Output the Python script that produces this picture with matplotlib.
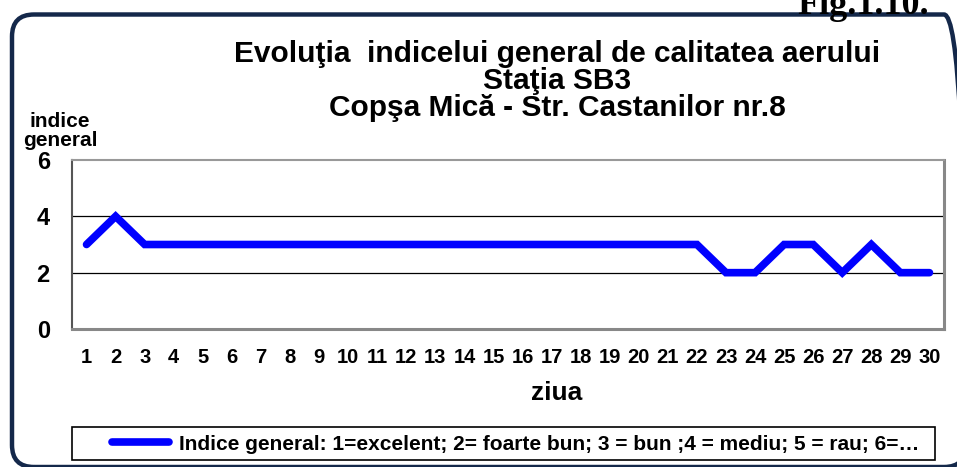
import matplotlib
matplotlib.use("Agg")
import matplotlib.pyplot as plt
from matplotlib.patches import FancyBboxPatch, Rectangle
from matplotlib.transforms import IdentityTransform

plt.rcParams['font.family'] = ['Liberation Sans', 'DejaVu Sans']

# Data
days = list(range(1, 31))
index_values = [3, 4, 3, 3, 3, 3, 3, 3, 3, 3,
                3, 3, 3, 3, 3, 3, 3, 3, 3, 3,
                3, 3, 2, 2, 3, 3, 2, 3, 2, 2]
y_ticks = [0, 2, 4, 6]
title_lines = ["Evoluţia  indicelui general de calitatea aerului",
               "Staţia SB3",
               "Copşa Mică - Str. Castanilor nr.8"]
legend_label = "Indice general: 1=excelent; 2= foarte bun; 3 = bun ;4 = mediu; 5 = rau; 6=…"

W, H = 957, 467
fig = plt.figure(figsize=(W / 100, H / 100), dpi=100)

# Outer rounded frame (pixel coords, origin bottom-left)
x0, y0, x1, y1, r = 12, 0, 966, 452.5, 22
frame = FancyBboxPatch((x0 + r, y0 + r), x1 - x0 - 2 * r, y1 - y0 - 2 * r,
                       boxstyle="round,pad=%d" % r,
                       transform=IdentityTransform(),
                       facecolor='none', edgecolor='#14284a', linewidth=3.2)
fig.patches.append(frame)

fig.text(929 / W, 1 - 14 / H, "Fig.1.10.", ha='right', va='baseline',
         fontsize=26, fontweight='bold', family='Liberation Serif')

# Axes
ax = fig.add_axes([72 / W, 1 - 329 / H, 872 / W, 169 / H])
ax.plot(days, index_values, color='#0000ff', linewidth=5.5,
        solid_capstyle='round', solid_joinstyle='miter',
        label=legend_label)
ax.set_xlim(0.5, 30.5)
ax.set_ylim(0, 6)
ax.set_xticks(days)
ax.set_yticks(y_ticks)
ax.tick_params(axis='both', length=0)
ax.tick_params(axis='x', labelsize=14.5, pad=13.5)
ax.tick_params(axis='y', labelsize=17, pad=16)
for lbl in ax.get_xticklabels() + ax.get_yticklabels():
    lbl.set_fontweight('bold')
for yv in [2, 4]:
    ax.axhline(yv, color='black', linewidth=0.9, zorder=1)
ax.spines['left'].set_color('#555555')
ax.spines['top'].set_color('#999999')
ax.spines['right'].set_color('#888888')
ax.spines['bottom'].set_color('#888888')
for s in ['right', 'bottom']:
    ax.spines[s].set_linewidth(2.2)
for s in ['left', 'top']:
    ax.spines[s].set_linewidth(1.5)

# Title
for i, line in enumerate(title_lines):
    fig.text(557 / W, 1 - (54 + 27 * i) / H, line, ha='center', va='center',
             fontsize=21.5, fontweight='bold')

# Axis labels
fig.text(60 / W, 1 - 131 / H, "indice\ngeneral", ha='center', va='center',
         fontsize=15, fontweight='bold', linespacing=1.0)
fig.text(557 / W, 1 - 393 / H, "ziua", ha='center', va='center',
         fontsize=19, fontweight='bold')

# Legend
fig.patches.append(Rectangle((72, 7), 863, 33, transform=IdentityTransform(),
                             facecolor='white', edgecolor='black', linewidth=1.2))
leg = fig.legend(loc='center', bbox_to_anchor=(516 / W, 1 - 444 / H),
                 frameon=False, handlelength=2.7, handletextpad=0.5,
                 prop={'size': 15, 'weight': 'bold'})

fig.savefig("out.png", dpi=100)
